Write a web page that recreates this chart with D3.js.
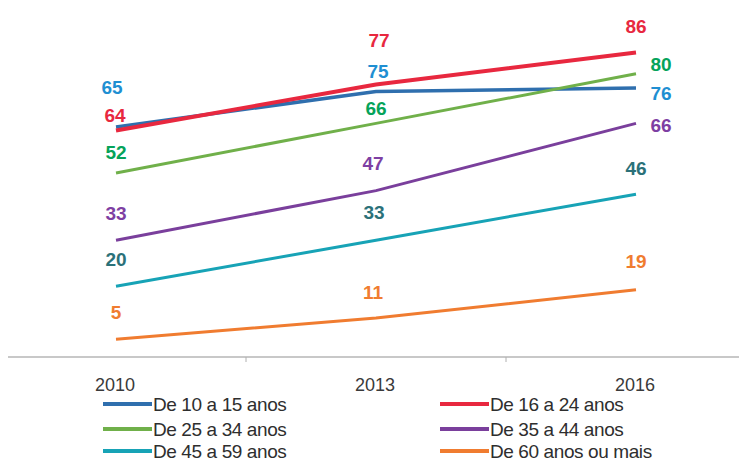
<!DOCTYPE html>
<html>
<head>
<meta charset="utf-8">
<script src="https://cdn.jsdelivr.net/npm/d3@7"></script>
<style>
  html, body { margin: 0; padding: 0; background: #fff; }
  svg { display: block; }
</style>
</head>
<body>
<div id="chart"></div>
<script>
// ---- data ----
const years = ["2010", "2013", "2016"];
const seriesNames = [
  "De 10 a 15 anos",
  "De 16 a 24 anos",
  "De 25 a 34 anos",
  "De 35 a 44 anos",
  "De 45 a 59 anos",
  "De 60 anos ou mais"
];
const values10to15 = [65, 75, 76];
const values16to24 = [64, 77, 86];
const values25to34 = [52, 66, 80];
const values35to44 = [33, 47, 66];
const values45to59 = [20, 33, 46];
const values60plus = [5, 11, 19];
const seriesValues = [values10to15, values16to24, values25to34, values35to44, values45to59, values60plus];

// ---- styling ----
const lineColors  = ["#2f6fae", "#e8283f", "#70b04a", "#7a3f9c", "#17a3b6", "#f07c30"];
const labelColors = ["#1f8fd2", "#e8283f", "#05a35a", "#7e3fa3", "#2b7179", "#f07c30"];
const lineWidths  = [3.5, 4, 3, 3, 3, 3];
// label offsets [dx, dy] per series per year (layout)
const labelOffsets = [
  [[-4, -39], [2, -20], [25, 6]],
  [[-1, -15], [3, -44], [0, -26]],
  [[0, -20], [0, -15], [25, -9]],
  [[0, -27], [-3, -27], [25, 2]],
  [[0, -27], [-2, -28], [0, -26]],
  [[0, -27], [-3, -26], [0, -28]]
];

const W = 739, H = 465;
const svg = d3.select("#chart").append("svg").attr("width", W).attr("height", H);

const x = d3.scaleBand().domain(years).range([-14, 766]).padding(0);
const xc = d => x(d) + x.bandwidth() / 2;
const y = d3.scaleLinear().domain([0, 100]).range([357, 3]);

// axis
const axisY = y(0);
svg.append("line")
  .attr("x1", 8).attr("x2", W).attr("y1", axisY).attr("y2", axisY)
  .attr("stroke", "#c8c8c8").attr("stroke-width", 2);
years.slice(1).forEach(yr => {
  svg.append("line")
    .attr("x1", x(yr)).attr("x2", x(yr)).attr("y1", axisY).attr("y2", axisY + 5)
    .attr("stroke", "#b0b0b0").attr("stroke-width", 1);
});
svg.selectAll("text.year").data(years).enter().append("text")
  .attr("class", "year")
  .attr("x", d => xc(d) - 1)
  .attr("y", 385)
  .attr("text-anchor", "middle")
  .attr("dominant-baseline", "central")
  .attr("font-family", "Liberation Sans, Arial, sans-serif")
  .attr("font-size", 18)
  .attr("fill", "#3a3a3a")
  .text(d => d);

// lines
const line = d3.line().x((d, i) => xc(years[i])).y(d => y(d));
seriesValues.forEach((vals, s) => {
  svg.append("path")
    .datum(vals)
    .attr("d", line)
    .attr("fill", "none")
    .attr("stroke", lineColors[s])
    .attr("stroke-width", lineWidths[s])
    .attr("stroke-linecap", "butt");
});
// draw red on top of blue again for overlap at 2010
// labels
seriesValues.forEach((vals, s) => {
  vals.forEach((v, i) => {
    const [dx, dy] = labelOffsets[s][i];
    svg.append("text")
      .attr("x", xc(years[i]) + dx)
      .attr("y", y(v) + dy)
      .attr("text-anchor", "middle")
      .attr("dominant-baseline", "central")
      .attr("font-family", "Liberation Sans, Arial, sans-serif")
      .attr("font-weight", "bold")
      .attr("font-size", 19)
      .attr("fill", labelColors[s])
      .text(v);
  });
});

// legend
const legendCols = [103, 440];
const legendRows = [404, 429, 451];
seriesNames.forEach((name, s) => {
  const col = s % 2, row = Math.floor(s / 2);
  const lx = legendCols[col], ly = legendRows[row];
  const g = svg.append("g");
  g.append("line")
    .attr("x1", lx).attr("x2", lx + 49).attr("y1", ly).attr("y2", ly)
    .attr("stroke", lineColors[s]).attr("stroke-width", 4);
  g.append("text")
    .attr("x", lx + 50).attr("y", ly)
    .attr("dominant-baseline", "central")
    .attr("font-family", "Liberation Sans, Arial, sans-serif")
    .attr("font-size", 19)
    .attr("letter-spacing", -0.4)
    .attr("fill", "#2e2e2e")
    .text(name);
});
</script>
</body>
</html>
